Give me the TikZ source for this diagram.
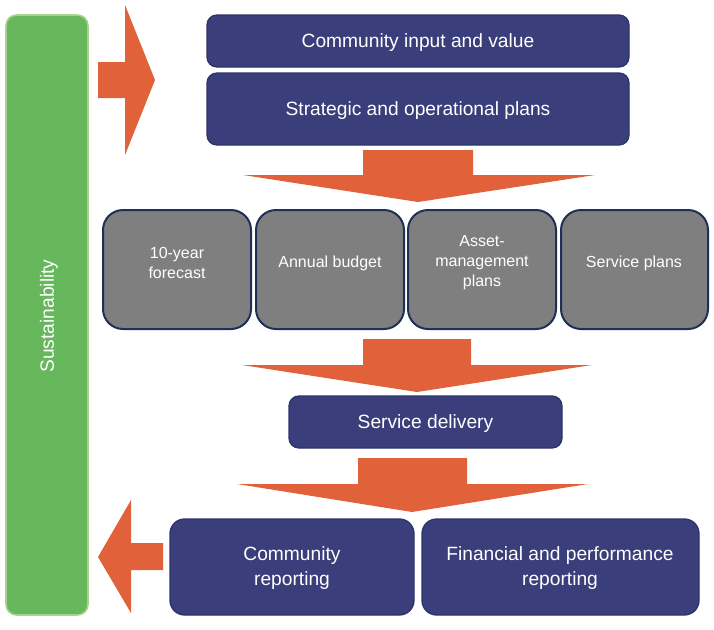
\documentclass[tikz,border=0pt]{standalone}
\usepackage{fontspec}
\setmainfont{Liberation Sans}
\usetikzlibrary{fit}
\definecolor{navy}{HTML}{3A3E7B}
\definecolor{navyline}{HTML}{2C3468}
\definecolor{greyfill}{HTML}{7F7F7F}
\definecolor{greyline}{HTML}{1F3057}
\definecolor{orng}{HTML}{E0613A}
\definecolor{grn}{HTML}{67B75C}
\definecolor{grnline}{HTML}{A6D48E}
\tikzset{
  navybox/.style={draw=navyline, line width=1pt, fill=navy, rounded corners=7.5pt, inner sep=0pt},
  greybox/.style={draw=greyline, line width=1.5pt, fill=greyfill, rounded corners=15pt, inner sep=0pt},
  btxt/.style={text=white, font=\fontsize{14.4pt}{18.5pt}\selectfont, align=center, yshift=-1.5pt},
  gtxt/.style={text=white, font=\fontsize{12pt}{15pt}\selectfont, align=center},
  blockarrow/.style={fill=orng, draw=none},
}
\begin{document}
\begin{tikzpicture}[x=0.75pt,y=-0.75pt]
\useasboundingbox (0,0) rectangle (714,629);
% sustainability bar
\node[draw=grnline, line width=1.2pt, fill=grn, rounded corners=8pt, inner sep=0pt, fit={(6,15) (88,615)}] (sus) {};
\node[text=white, font=\fontsize{14.4pt}{18pt}\selectfont, rotate=90] (sustxt) at (49,316) {Sustainability};
% top boxes
\node[navybox, fit={(207,15) (629,67)}] (cin) {};
\node[btxt] (cintxt) at (cin) {Community input and value};
\node[navybox, fit={(207,73) (629,145)}] (sop) {};
\node[btxt] (soptxt) at (sop) {Strategic and operational plans};
% grey boxes
\node[greybox, fit={(103,210) (251,329)}] (g1) {};
\node[gtxt] (g1t) at (177,263) {10-year\\forecast};
\node[greybox, fit={(256,210) (404,329)}] (g2) {};
\node[gtxt] (g2t) at (330,263) {Annual budget};
\node[greybox, fit={(408,210) (556,329)}] (g3) {};
\node[gtxt] (g3t) at (482,263) {Asset-\\management\\plans};
\node[greybox, fit={(561,210) (708,329)}] (g4) {};
\node[gtxt] (g4t) at (634,263) {Service plans};
% service delivery
\node[navybox, fit={(289,396) (562,448)}] (sd) {};
\node[btxt] (sdt) at (sd) {Service delivery};
% bottom boxes
\node[navybox, rounded corners=11pt, fit={(170,519) (414,615)}] (cr) {};
\node[btxt] (crt) at (292,566) {Community\\reporting};
\node[navybox, rounded corners=11pt, fit={(422,519) (699,615)}] (fp) {};
\node[btxt] (fpt) at (560,566) {Financial and performance\\reporting};
% block arrows
\fill[blockarrow] (98,62) -- (125,62) -- (125,5) -- (155,80) -- (125,155) -- (125,98) -- (98,98) -- cycle;
\fill[blockarrow] (363,150) -- (473,150) -- (473,175) -- (595,175) -- (418,202) -- (243,175) -- (363,175) -- cycle;
\fill[blockarrow] (363,339) -- (471,339) -- (471,365) -- (592,365) -- (417,392) -- (242,365) -- (363,365) -- cycle;
\fill[blockarrow] (358,458) -- (467,458) -- (467,484) -- (588,484) -- (412,512) -- (237,484) -- (358,484) -- cycle;
\fill[blockarrow] (163,543) -- (131,543) -- (131,500) -- (98,557) -- (131,613) -- (131,570) -- (163,570) -- cycle;
\end{tikzpicture}
\end{document}
